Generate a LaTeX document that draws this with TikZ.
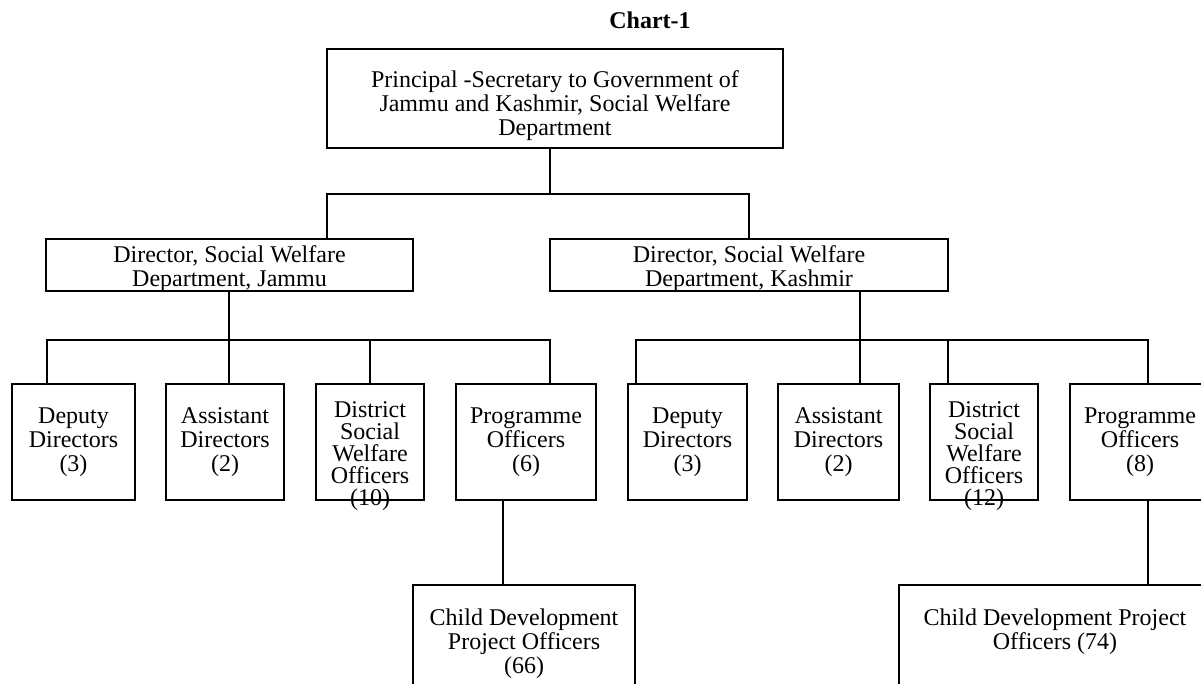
\documentclass[tikz,border=0pt]{standalone}
\usepackage{fontspec}
\setmainfont{Liberation Serif}
\usetikzlibrary{calc, positioning}

\tikzset{
  box/.style 2 args={draw, line width=1pt, inner sep=0pt, outer sep=0pt,
    anchor=north west, minimum width={#1*0.5pt}, minimum height={#2*0.5pt}},
  boxtext/.style={align=center, inner sep=0pt, anchor=north,
    font=\fontsize{12}{12}\selectfont},
}

\begin{document}
\begin{tikzpicture}[x=0.5pt, y=-0.5pt, line width=1pt]
    \useasboundingbox (0,0) rectangle (1201,684);

    % 1. Title
    \node[font=\fontsize{12}{12}\selectfont\bfseries] (title) at (650,20) {Chart-1};

    % 2. Principal Secretary and the two Directors
    \node[box={456}{99}] (top) at (327,49) {};
    \node[boxtext, below=10.5pt of top.north] (top-t)
        {Principal -Secretary to Government of\\Jammu and Kashmir, Social Welfare\\Department};
    \node[box={367}{52}] (jammu) at (46,239) {};
    \node[boxtext, below=3pt of jammu.north] (jammu-t) {Director, Social Welfare\\Department, Jammu};
    \node[box={398}{52}] (kashmir) at (550,239) {};
    \node[boxtext, below=3pt of kashmir.north] (kashmir-t) {Director, Social Welfare\\Department, Kashmir};

    % 3. Officers under each Director
    \foreach \nm/\x/\w/\txt in {dd1/12/123/{Deputy\\Directors\\(3)},
        ad1/166/118/{Assistant\\Directors\\(2)},
        po1/456/140/{Programme\\Officers\\(6)},
        dd2/628/119/{Deputy\\Directors\\(3)},
        ad2/778/121/{Assistant\\Directors\\(2)},
        po2/1070/140/{Programme\\Officers\\(8)}} {
        \node[box={\w}{116}] (\nm) at (\x,384) {};
        \node[boxtext, below=11.5pt of \nm.north] (\nm-t) {\txt};
    }
    \foreach \nm/\x/\n in {dswo1/316/10, dswo2/930/12} {
        \node[box={108}{116}] (\nm) at (\x,384) {};
        \node[boxtext, font=\fontsize{12}{11}\selectfont, below=8.5pt of \nm.north] (\nm-t)
            {District\\Social\\Welfare\\Officers\\(\n)};
    }

    % 4. Child Development Project Officers
    \node[box={222}{110}] (cdpo1) at (413,585) {};
    \node[boxtext, below=11.5pt of cdpo1.north] (cdpo1-t) {Child Development\\Project Officers\\(66)};
    \node[box={312}{110}] (cdpo2) at (899,585) {};
    \node[boxtext, below=11.5pt of cdpo2.north] (cdpo2-t) {Child Development Project\\Officers (74)};

    % 5. Connectors
    \draw ($(top.south west)+(223,0)$) -- ++(0,46);
    \draw ($(jammu.north west)+(281,0)$) -- ++(0,-45) -| ($(kashmir.north west)+(199,0)$);

    \draw ($(jammu.south west)+(183,0)$) -- ($(ad1.north west)+(63,0)$);
    \draw ($(dd1.north west)+(35,0)$) -- ++(0,-44) -| ($(po1.north west)+(94,0)$);
    \draw ($(dswo1.north west)+(54,0)$) -- ++(0,-44);

    \draw ($(kashmir.south west)+(310,0)$) -- ($(ad2.north west)+(82,0)$);
    \draw ($(dd2.north west)+(8,0)$) -- ++(0,-44) -| ($(po2.north west)+(78,0)$);
    \draw ($(dswo2.north west)+(18,0)$) -- ++(0,-44);

    \draw ($(po1.south west)+(47,0)$) -- ($(cdpo1.north west)+(90,0)$);
    \draw ($(po2.south west)+(78,0)$) -- ($(cdpo2.north west)+(249,0)$);
\end{tikzpicture}
\end{document}
